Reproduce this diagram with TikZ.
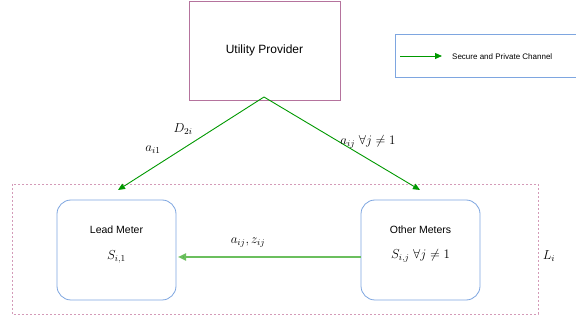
\documentclass[tikz,border=0pt]{standalone}
\usepackage{fix-cm}
\usepackage{fontspec}
\setmainfont{Liberation Sans}
\usetikzlibrary{arrows.meta}
\definecolor{pinkline}{HTML}{B5739D}
\definecolor{blueline}{HTML}{7EA6E0}
\definecolor{darkgreen}{HTML}{009900}
\definecolor{lightgreen}{HTML}{6BBF5E}
\definecolor{dashpink}{HTML}{D49AB8}
\begin{document}
\begin{tikzpicture}[x=1pt,y=-1pt,
  meter/.style={draw=blueline,line width=0.8pt,rounded corners=14pt,minimum width=119pt,minimum height=100pt,inner sep=0pt},
  chan/.style={draw=darkgreen,line width=0.9pt,-{Triangle[length=7pt,width=6pt]}},
  lbl/.style={inner sep=0pt,font=\fontsize{13}{15}\selectfont}
]
\useasboundingbox (0,0) rectangle (576,320);
\fill[white] (0,0) rectangle (576,320);
% utility provider
\node[draw=pinkline,line width=0.8pt,minimum width=151pt,minimum height=99pt,inner sep=0pt,font=\fontsize{12}{14}\selectfont] (up) at (264.5,50.5) {Utility Provider};
% legend
\draw[draw=blueline,line width=0.8pt] (395,34) rectangle (580,77);
\coordinate (lga) at (400,56);
\coordinate (lgb) at (442,56);
\draw[chan] (lga) -- (lgb);
\node[anchor=west,inner sep=0pt,font=\fontsize{8}{9}\selectfont] (lgt) at (452,57) {Secure and Private Channel};
% cluster
\draw[dashpink,line width=0.8pt,dash pattern=on 2pt off 2pt] (12,184) rectangle (538,314);
\node[lbl] (li) at (549,256) {$L_i$};
% meters
\node[meter] (lead) at (116.5,250) {};
\node[meter] (other) at (420.5,250) {};
\node[font=\fontsize{10.5}{12}\selectfont,inner sep=0pt] (leadt) at (116.5,230) {Lead Meter};
\node[lbl] (leads) at (116.5,257) {$S_{i,1}$};
\node[font=\fontsize{10.5}{12}\selectfont,inner sep=0pt] (othert) at (420.5,230) {Other Meters};
\node[lbl] (others) at (420.5,256) {$S_{i,j}\ \forall j\neq 1$};
% connectors
\coordinate (top) at (264,97);
\coordinate (la) at (118,190);
\coordinate (oa) at (420,190);
\draw[chan] (top) -- (la);
\draw[chan] (top) -- (oa);
\draw[draw=lightgreen,line width=2pt,-{Triangle[length=8pt,width=7pt,fill=darkgreen]}] (other.west |- 0,257) -- (178,257);
\node[lbl] (d2i) at (183,129) {$D_{2i}$};
\node[lbl] (ai1) at (153,150) {$a_{i1}$};
\node[lbl] (aij) at (368,142) {$a_{ij}\ \forall j\neq 1$};
\node[lbl] (aijz) at (248,243) {$a_{ij}, z_{ij}$};
\end{tikzpicture}
\end{document}
